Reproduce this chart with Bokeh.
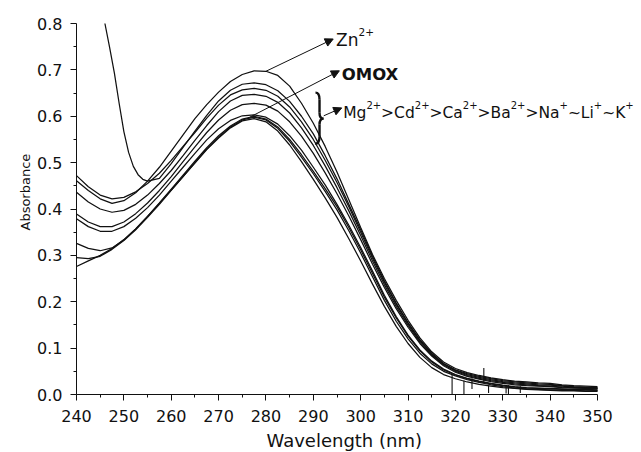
import numpy as np
from bokeh.plotting import figure
from bokeh.models import Range1d, FixedTicker, PrintfTickFormatter, Arrow, NormalHead, Label, Title
from bokeh.embed import file_html
from bokeh.resources import INLINE

# ---------------- data ----------------
wavelength = [240 + 2.5 * i for i in range(45)]  # 240 ... 350 nm

zn = [0.461, 0.440, 0.422, 0.412, 0.418, 0.435, 0.460, 0.490, 0.525, 0.560, 0.595, 0.625, 0.652, 0.675, 0.690,
      0.698, 0.697, 0.688, 0.665, 0.628, 0.585, 0.535, 0.480, 0.420, 0.360, 0.302, 0.250, 0.203, 0.160, 0.122,
      0.092, 0.070, 0.056, 0.047, 0.041, 0.036, 0.032, 0.029, 0.027, 0.025, 0.024, 0.021, 0.019, 0.018, 0.017]
# the steep curve enters the frame at 246 nm (read more finely where it bends)
wavelength_a = [246.0, 247.0, 248.0, 249.0, 250.0, 251.0, 252.0, 253.0, 254.0, 255.0] + wavelength[7:]
ion_a = [0.800, 0.748, 0.693, 0.628, 0.567, 0.522, 0.492, 0.474, 0.464, 0.460,
         0.466, 0.498, 0.533, 0.568, 0.602, 0.633, 0.656, 0.669,
         0.672, 0.668, 0.655, 0.632, 0.600, 0.562, 0.515, 0.465, 0.410, 0.355, 0.298, 0.245, 0.197, 0.155, 0.118,
         0.089, 0.067, 0.053, 0.045, 0.039, 0.034, 0.030, 0.027, 0.025, 0.023, 0.022, 0.019, 0.017, 0.016, 0.015]
ion_b = [0.472, 0.448, 0.430, 0.422, 0.425, 0.437, 0.455, 0.477, 0.505, 0.535, 0.565, 0.596, 0.624, 0.646, 0.657,
         0.660, 0.656, 0.643, 0.620, 0.588, 0.550, 0.505, 0.457, 0.405, 0.350, 0.294, 0.242, 0.195, 0.153, 0.116,
         0.087, 0.066, 0.052, 0.043, 0.037, 0.032, 0.028, 0.025, 0.023, 0.021, 0.020, 0.018, 0.016, 0.015, 0.014]
ion_c = [0.436, 0.415, 0.400, 0.393, 0.397, 0.410, 0.430, 0.455, 0.483, 0.515, 0.548, 0.580, 0.610, 0.633, 0.645,
         0.647, 0.643, 0.630, 0.607, 0.575, 0.537, 0.493, 0.446, 0.396, 0.343, 0.288, 0.237, 0.190, 0.149, 0.113,
         0.085, 0.064, 0.050, 0.041, 0.035, 0.030, 0.026, 0.023, 0.021, 0.019, 0.018, 0.016, 0.015, 0.014, 0.013]
ion_d = [0.389, 0.372, 0.362, 0.362, 0.372, 0.390, 0.413, 0.440, 0.470, 0.502, 0.534, 0.565, 0.592, 0.613, 0.625,
         0.628, 0.624, 0.611, 0.588, 0.557, 0.520, 0.478, 0.433, 0.385, 0.334, 0.281, 0.231, 0.185, 0.145, 0.110,
         0.083, 0.062, 0.048, 0.039, 0.033, 0.028, 0.024, 0.021, 0.019, 0.018, 0.017, 0.015, 0.014, 0.013, 0.012]
ion_e = [0.379, 0.362, 0.352, 0.352, 0.362, 0.380, 0.403, 0.430, 0.460, 0.490, 0.520, 0.549, 0.573, 0.591, 0.601,
         0.603, 0.598, 0.583, 0.558, 0.527, 0.490, 0.452, 0.410, 0.365, 0.317, 0.266, 0.214, 0.168, 0.128, 0.096,
         0.072, 0.055, 0.043, 0.035, 0.029, 0.024, 0.020, 0.017, 0.015, 0.014, 0.013, 0.012, 0.011, 0.011, 0.010]
ion_f = [0.326, 0.315, 0.310, 0.316, 0.333, 0.357, 0.384, 0.413, 0.443, 0.473, 0.503, 0.532, 0.558, 0.579, 0.594,
         0.600, 0.594, 0.577, 0.550, 0.517, 0.481, 0.444, 0.405, 0.360, 0.312, 0.261, 0.210, 0.165, 0.126, 0.094,
         0.070, 0.053, 0.042, 0.034, 0.028, 0.023, 0.019, 0.016, 0.014, 0.013, 0.012, 0.011, 0.010, 0.010, 0.009]
omox = [0.295, 0.293, 0.298, 0.313, 0.332, 0.355, 0.382, 0.410, 0.440, 0.470, 0.500, 0.529, 0.555, 0.577, 0.592,
        0.598, 0.592, 0.574, 0.546, 0.512, 0.476, 0.438, 0.398, 0.353, 0.305, 0.254, 0.203, 0.158, 0.120, 0.089,
        0.066, 0.050, 0.040, 0.032, 0.026, 0.021, 0.017, 0.014, 0.012, 0.011, 0.010, 0.009, 0.009, 0.008, 0.008]
ion_h = [0.276, 0.288, 0.300, 0.315, 0.334, 0.357, 0.384, 0.412, 0.441, 0.470, 0.499, 0.528, 0.553, 0.575, 0.590,
         0.595, 0.588, 0.568, 0.538, 0.502, 0.464, 0.424, 0.382, 0.336, 0.288, 0.238, 0.190, 0.147, 0.110, 0.080,
         0.058, 0.043, 0.034, 0.027, 0.022, 0.018, 0.015, 0.013, 0.011, 0.010, 0.009, 0.008, 0.008, 0.007, 0.007]

series = [(wavelength, zn), (wavelength_a, ion_a), (wavelength, ion_b), (wavelength, ion_c),
          (wavelength, ion_d), (wavelength, ion_e), (wavelength, ion_f), (wavelength, omox), (wavelength, ion_h)]

# noise spikes in the tail region
spike_x = [319.3, 321.8, 323.5, 326.0, 327.0, 330.7, 331.2, 333.7]
spike_lo = [0.000, 0.000, 0.012, 0.025, 0.003, 0.002, 0.000, 0.003]
spike_hi = [0.043, 0.030, 0.035, 0.057, 0.020, 0.020, 0.020, 0.018]

x_ticks = [240, 250, 260, 270, 280, 290, 300, 310, 320, 330, 340, 350]
x_minor = [245, 255, 265, 275, 285, 295, 305, 315, 325, 335, 345]
y_ticks = [0.0, 0.1, 0.2, 0.3, 0.4, 0.5, 0.6, 0.7, 0.8]
y_minor = [0.05, 0.15, 0.25, 0.35, 0.45, 0.55, 0.65, 0.75]

# ---------------- figure ----------------
PX_PER_NM = 521.0 / 110.0      # axis 240..350 spans 521 px
PX_PER_A = 371.0 / 0.8         # axis 0..0.8 spans 371 px
FW, FH = 560, 381              # frame extends beyond the axes to hold the annotations
X_END = 240 + FW / PX_PER_NM
Y_END = FH / PX_PER_A

p = figure(frame_width=FW, frame_height=FH, x_range=Range1d(240, X_END), y_range=Range1d(0, Y_END),
           output_backend="svg", toolbar_location=None,
           min_border_left=76, min_border_top=13, min_border_right=0, min_border_bottom=0)
p.outline_line_color = None
p.xgrid.visible = False
p.ygrid.visible = False
p.background_fill_color = "white"
p.border_fill_color = "white"

FONT = "DejaVu Sans"
INK = "#111111"

p.xaxis.ticker = FixedTicker(ticks=x_ticks, minor_ticks=x_minor)
p.yaxis.ticker = FixedTicker(ticks=y_ticks, minor_ticks=y_minor)
p.xaxis.bounds = (240, 350)
p.yaxis.bounds = (0, 0.8)
p.xaxis.formatter = PrintfTickFormatter(format="%d")
p.yaxis.formatter = PrintfTickFormatter(format="%.1f")
for ax in (p.xaxis[0], p.yaxis[0]):
    ax.axis_line_color = INK
    ax.major_tick_line_color = INK
    ax.minor_tick_line_color = INK
    ax.major_tick_in = 0
    ax.minor_tick_in = 0
    ax.major_tick_out = 6
    ax.minor_tick_out = 3
    ax.major_label_text_font = FONT
    ax.major_label_text_font_size = "16px"
    ax.major_label_text_color = INK
p.xaxis.major_label_standoff = 9
p.yaxis.major_label_standoff = 8

# axis titles placed to sit under / beside the drawn axis extent
p.add_layout(Title(text="Wavelength (nm)", align="left", offset=190, standoff=6,
                   text_font=FONT, text_font_size="18px", text_font_style="normal",
                   text_color=INK), "below")
p.add_layout(Title(text="Absorbance", align="left", offset=164, standoff=4,
                   text_font=FONT, text_font_size="13px", text_font_style="normal",
                   text_color=INK), "left")

for xs, ys in series:
    p.line(np.array(xs, dtype=float), np.array(ys, dtype=float), line_color=INK, line_width=1.25)

p.segment(x0=spike_x, y0=spike_lo, x1=spike_x, y1=spike_hi, line_color=INK, line_width=1.1)

# ---------------- annotations ----------------
NM_PER_PX = 1.0 / PX_PER_NM
A_PER_PX = 1.0 / PX_PER_A

# brace "}" drawn with bezier curves
bx0, bxm, btip = 290.46, 291.31, 292.15
p.bezier(x0=[bx0, bxm, btip, bxm], y0=[0.6509, 0.6078, 0.5948, 0.5560],
         x1=[bxm, btip, bxm, 290.36], y1=[0.6358, 0.5948, 0.5819, 0.5409],
         cx0=[291.10, bxm, 291.63, bxm], cy0=[0.6509, 0.5991, 0.5948, 0.5453],
         cx1=[bxm, 291.63, bxm, 290.99], cy1=[0.6466, 0.5948, 0.5905, 0.5409],
         line_color=INK, line_width=2.4)
p.segment(x0=[bxm, bxm], y0=[0.6358, 0.5819], x1=[bxm, bxm], y1=[0.6078, 0.5560],
          line_color=INK, line_width=2.4)

def head():
    return NormalHead(size=8, fill_color=INK, line_color=INK, line_width=1)

p.add_layout(Arrow(end=head(), x_start=279.8, y_start=0.696, x_end=294.2, y_end=0.7666,
                   line_color=INK, line_width=1))
p.add_layout(Arrow(end=head(), x_start=276.6, y_start=0.598, x_end=295.5, y_end=0.698,
                   line_color=INK, line_width=1))
p.add_layout(Arrow(end=head(), x_start=292.2, y_start=0.601, x_end=296.0, y_end=0.618,
                   line_color=INK, line_width=1))

WIDTHS = {'M': .863, 'g': .635, '>': .838, 'C': .698, 'd': .635, 'a': .613, 'B': .686, 'N': .748,
          '~': .838, 'L': .557, 'i': .278, 'K': .656, 'Z': .685, 'n': .634, '2': .636, '+': .838}

def text_w(t):
    return sum(WIDTHS.get(c, 0.6) for c in t)

def place(x0, y0, pieces, size_main, size_sup, raise_px, style="normal"):
    cur = x0
    for txt, sup in pieces:
        size = size_sup if sup else size_main
        y = y0 + (raise_px * A_PER_PX if sup else 0.0)
        p.add_layout(Label(x=cur, y=y, text=txt, text_font=FONT, text_font_size=f"{size}px",
                           text_font_style=style, text_baseline="alphabetic", text_align="left",
                           text_color=INK))
        cur += text_w(txt) * size * NM_PER_PX

place(294.8, 0.764, [("Zn", False), ("2+", True)], 17, 10.5, 8.5)
place(296.0, 0.690, [("OMOX", False)], 16.5, 16.5, 0, style="bold")
place(296.3, 0.608,
      [("Mg", False), ("2+", True), (">Cd", False), ("2+", True), (">Ca", False), ("2+", True),
       (">Ba", False), ("2+", True), (">Na", False), ("+", True), ("~Li", False), ("+", True),
       ("~K", False), ("+", True)], 15.5, 10, 7.5)

open("out.html", "w").write(file_html(p, INLINE))
